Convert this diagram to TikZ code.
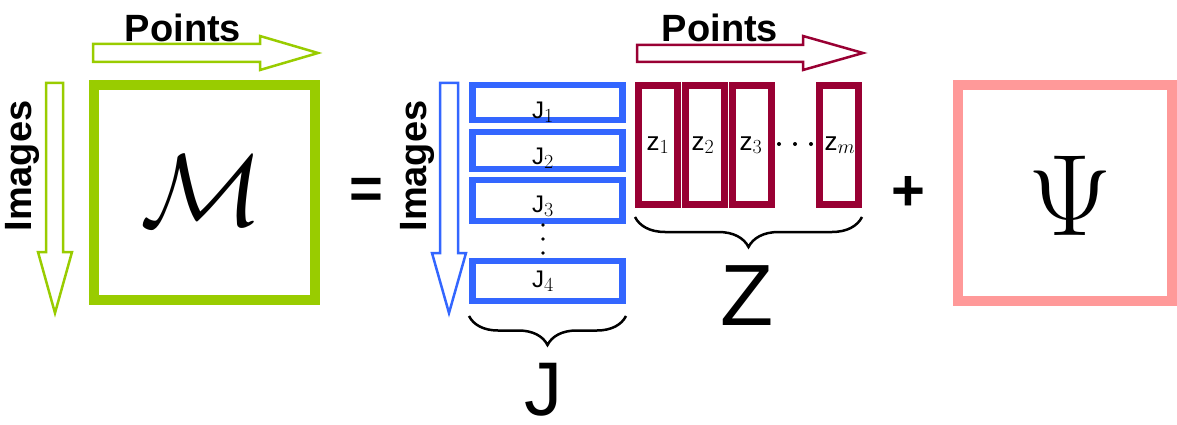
\RequirePackage{fix-cm}
\documentclass[tikz,border=0pt]{standalone}
\usepackage{fontspec}
\setmainfont{Liberation Sans}
\usetikzlibrary{decorations.pathreplacing}
\DeclareMathSizes{24}{24}{20}{16}
\DeclareMathSizes{26}{26}{20}{16}
\definecolor{mgreen}{HTML}{99CC00}
\definecolor{mblue}{HTML}{3366FF}
\definecolor{mred}{HTML}{990033}
\definecolor{mpink}{HTML}{FF9999}
\begin{document}
\begin{tikzpicture}[x=1pt,y=-1pt,
  blockarrow/.style={line width=2.5pt, line join=miter},
  axislabel/.style={font=\fontsize{38}{40}\selectfont\bfseries, inner sep=0pt},
  jbox/.style={draw=mblue, line width=6.5pt, minimum width=150pt, inner sep=0pt},
  zbox/.style={draw=mred, line width=7pt, minimum width=39pt, minimum height=119pt, inner sep=0pt},
  cell/.style={font=\fontsize{24}{28}\selectfont, anchor=base, inner sep=0pt},
  zcell/.style={font=\fontsize{26}{28}\selectfont, anchor=base, inner sep=0pt},
  bigop/.style={font=\fontsize{58}{60}\selectfont\bfseries, inner sep=0pt},
  bracestyle/.style={decorate, line width=2.5pt, decoration={brace, mirror, amplitude=29pt}},
  biglabel/.style={anchor=base, inner sep=0pt}
]
\useasboundingbox (0,0) rectangle (1177,425);

% ---- M block ----
\draw[blockarrow, draw=mgreen] (93,44) -- (260,44) -- (260,36) -- (318,53) -- (260,70) -- (260,62) -- (93,62) -- cycle;
\node[axislabel] (ptsM) at (183,28) {Points};
\draw[blockarrow, draw=mgreen] (46,83) -- (63,83) -- (63,252) -- (72,252) -- (55,313) -- (38,252) -- (46,252) -- cycle;
\node[axislabel, rotate=90] (imgM) at (22,166) {Images};
\node[draw=mgreen, line width=10pt, minimum width=221pt, minimum height=215pt, inner sep=0pt] (M) at (204.5,192.5) {};
\node[inner sep=0pt] (Mtxt) at (202,191) {\fontsize{102}{102}\selectfont$\mathcal{M}$};

\node[bigop] (eq) at (366.5,193) {=};

% ---- J block ----
\draw[blockarrow, draw=mblue] (440,83) -- (458,83) -- (458,253) -- (466,253) -- (449,313) -- (432,253) -- (440,253) -- cycle;
\node[axislabel, rotate=90] (imgJ) at (417,166) {Images};
\node[jbox, minimum height=35pt] (j1) at (547.5,102.5) {};
\node[jbox, minimum height=37pt] (j2) at (547.5,150.5) {};
\node[jbox, minimum height=41pt] (j3) at (547.5,200.5) {};
\node[jbox, minimum height=40pt] (j4) at (547.5,281) {};
\node[cell] (j1l) at (543,118) {J$_1$};
\node[cell] (j2l) at (543,164) {J$_2$};
\node[cell] (j3l) at (543,212) {J$_3$};
\node[cell] (j4l) at (543,287) {J$_4$};
\fill (543,225) circle (1.8pt) (543,239) circle (1.8pt) (543,253) circle (1.8pt);
\coordinate (jbl) at (469,316);
\coordinate (jbr) at (626,316);
\draw[bracestyle] (jbl) -- (jbr);
\node[biglabel, font=\fontsize{76}{80}\selectfont] (Jbig) at (543,415) {J};

% ---- Z block ----
\draw[blockarrow, draw=mred] (637,45) -- (803,45) -- (803,36) -- (863,53) -- (803,70) -- (803,62) -- (637,62) -- cycle;
\node[axislabel] (ptsZ) at (720,28) {Points};
\node[zbox] (z1) at (658,145) {};
\node[zbox] (z2) at (705,145) {};
\node[zbox] (z3) at (752,145) {};
\node[zbox] (zm) at (839,145) {};
\node[zcell] (z1l) at (658,150) {z$_1$};
\node[zcell] (z2l) at (703,150) {z$_2$};
\node[zcell] (z3l) at (751,150) {z$_3$};
\node[zcell] (zml) at (840,150) {z$_m$};
\fill (779,144) circle (2pt) (795,144) circle (2pt) (811,144) circle (2pt);
\coordinate (zbl) at (635,217);
\coordinate (zbr) at (862,217);
\draw[bracestyle, decoration={amplitude=30pt}] (zbl) -- (zbr);
\node[biglabel, font=\fontsize{87}{90}\selectfont] (Zbig) at (747,325) {Z};

\node[bigop] (plus) at (908,193) {+};

% ---- Psi block ----
\node[draw=mpink, line width=10pt, minimum width=214pt, minimum height=216pt, inner sep=0pt] (P) at (1065,193) {};
\node[inner sep=0pt] (Ptxt) at (1070,196) {\fontsize{116}{116}\selectfont$\Psi$};
\end{tikzpicture}
\end{document}
